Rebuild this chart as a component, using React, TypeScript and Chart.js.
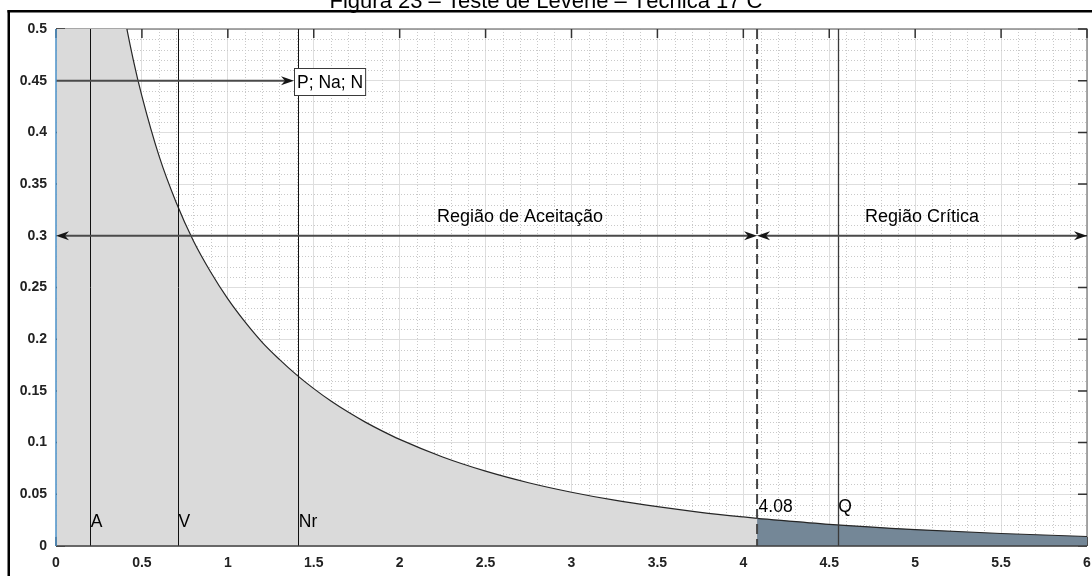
import { useEffect, useRef } from "react";
import { Chart, registerables } from "chart.js";

Chart.register(...registerables);

// Density of the F(1, 40) statistic along the horizontal axis
const curveX = [0.005, 0.05, 0.1, 0.2, 0.3, 0.35, 0.4, 0.45, 0.5, 0.6, 0.7, 0.8, 0.9, 1.0, 1.1, 1.2, 1.3, 1.4, 1.5, 1.6, 1.7, 1.8, 1.9, 2.0, 2.25, 2.5, 2.75, 3.0, 3.25, 3.5, 3.75, 4.0, 4.08, 4.5, 5.0, 5.5, 6.0];
const curveY = [5.59, 1.728, 1.191, 0.8, 0.621, 0.56, 0.511, 0.47, 0.435, 0.377, 0.332, 0.295, 0.265, 0.239, 0.2167, 0.197, 0.1805, 0.1655, 0.1522, 0.1402, 0.1295, 0.1198, 0.1111, 0.1031, 0.0861, 0.0724, 0.0612, 0.052, 0.0443, 0.038, 0.0326, 0.0281, 0.0268, 0.021, 0.0159, 0.0121, 0.0092];

// Critical value of the test
const criticalValue = 4.08;
const criticalLabel = "4.08";

// Observed statistics marked with vertical lines
const markerNames = ["A", "V", "Nr", "Q"];
const markerValues = [0.2, 0.71, 1.41, 4.55];

// Statistics beyond the plotted range, pointed to by an arrow
const pointerLabel = "P; Na; N";
const pointerLevel = 0.45;
const pointerEnd = 1.385;

// Regions
const regionNames = ["Região de Aceitação", "Região Crítica"];
const regionCenters = [2.7, 5.04];
const regionArrowLevel = 0.3;

const titleText = "Figura 23 – Teste de Levene – Técnica 17 C";

// Axis ticks
const xTicks = [0, 0.5, 1, 1.5, 2, 2.5, 3, 3.5, 4, 4.5, 5, 5.5, 6];
const xTickLabels = ["0", "0.5", "1", "1.5", "2", "2.5", "3", "3.5", "4", "4.5", "5", "5.5", "6"];
const yTicks = [0, 0.05, 0.1, 0.15, 0.2, 0.25, 0.3, 0.35, 0.4, 0.45, 0.5];
const yTickLabels = ["0", "0.05", "0.1", "0.15", "0.2", "0.25", "0.3", "0.35", "0.4", "0.45", "0.5"];

const FONT = "'Liberation Sans', Arial, Helvetica, sans-serif";

function labelFor(values: number[], labels: string[], v: number) {
  let best = 0;
  for (let i = 1; i < values.length; i++) {
    if (Math.abs(values[i] - v) < Math.abs(values[best] - v)) best = i;
  }
  return labels[best];
}

function arrowHead(ctx: CanvasRenderingContext2D, tx: number, ty: number, dir: number) {
  const len = 13;
  const half = 4.5;
  const notch = 4;
  ctx.beginPath();
  ctx.moveTo(tx, ty);
  ctx.lineTo(tx - dir * len, ty - half);
  ctx.lineTo(tx - dir * (len - notch), ty);
  ctx.lineTo(tx - dir * len, ty + half);
  ctx.closePath();
  ctx.fill();
}

const overlay = {
  id: "overlay",
  beforeDatasetsDraw(chart: any) {
    const { ctx, chartArea: a, scales } = chart;
    const x = scales.x;
    const y = scales.y;
    ctx.save();
    // minor dotted grid
    ctx.strokeStyle = "#c9c9c9";
    ctx.lineWidth = 1;
    ctx.setLineDash([1, 2]);
    for (let i = 1; i < 60; i++) {
      if (i % 5 === 0) continue;
      const px = Math.round(x.getPixelForValue(i / 10)) + 0.5;
      ctx.beginPath();
      ctx.moveTo(px, a.top);
      ctx.lineTo(px, a.bottom);
      ctx.stroke();
    }
    for (let j = 1; j < 50; j++) {
      if (j % 5 === 0) continue;
      const py = Math.round(y.getPixelForValue(j / 100)) + 0.5;
      ctx.beginPath();
      ctx.moveTo(a.left, py);
      ctx.lineTo(a.right, py);
      ctx.stroke();
    }
    ctx.setLineDash([]);
    // box
    ctx.strokeStyle = "#8a8a8a";
    ctx.lineWidth = 1.5;
    ctx.beginPath();
    ctx.moveTo(a.left, a.top);
    ctx.lineTo(a.right, a.top);
    ctx.lineTo(a.right, a.bottom);
    ctx.stroke();
    // tick marks on all four sides
    ctx.strokeStyle = "#333333";
    ctx.lineWidth = 1.5;
    const tl = 9;
    xTicks.forEach((v) => {
      const px = x.getPixelForValue(v);
      ctx.beginPath();
      ctx.moveTo(px, a.top);
      ctx.lineTo(px, a.top + tl);
      ctx.moveTo(px, a.bottom);
      ctx.lineTo(px, a.bottom - tl);
      ctx.stroke();
    });
    yTicks.forEach((v) => {
      const py = y.getPixelForValue(v);
      ctx.beginPath();
      ctx.moveTo(a.right, py);
      ctx.lineTo(a.right - tl, py);
      ctx.moveTo(a.left, py);
      ctx.lineTo(a.left + tl, py);
      ctx.stroke();
    });
    ctx.restore();
  },
  afterDatasetsDraw(chart: any) {
    const { ctx, chartArea: a, scales } = chart;
    const x = scales.x;
    const y = scales.y;
    const yTop = y.getPixelForValue(0.5);
    const yBot = y.getPixelForValue(0);
    ctx.save();

    // observed statistics
    markerValues.forEach((v, i) => {
      const px = Math.round(x.getPixelForValue(v)) + 0.5;
      ctx.strokeStyle = i === 3 ? "#3a3a3a" : "#111111";
      ctx.lineWidth = i === 3 ? 1.3 : 1;
      ctx.beginPath();
      ctx.moveTo(px, yTop);
      ctx.lineTo(px, yBot);
      ctx.stroke();
    });

    // critical value
    const cx = x.getPixelForValue(criticalValue);
    ctx.strokeStyle = "#454545";
    ctx.lineWidth = 2;
    ctx.setLineDash([10, 5]);
    ctx.beginPath();
    ctx.moveTo(cx, yTop);
    ctx.lineTo(cx, yBot);
    ctx.stroke();
    ctx.setLineDash([]);

    // region arrows
    const ay = y.getPixelForValue(regionArrowLevel);
    const x0 = x.getPixelForValue(0);
    const x6 = x.getPixelForValue(6);
    ctx.strokeStyle = "#4a4a4a";
    ctx.fillStyle = "#151515";
    ctx.lineWidth = 2;
    ctx.beginPath();
    ctx.moveTo(x0 + 6, ay);
    ctx.lineTo(cx - 6, ay);
    ctx.moveTo(cx + 6, ay);
    ctx.lineTo(x6 - 6, ay);
    ctx.stroke();
    arrowHead(ctx, x0, ay, -1);
    arrowHead(ctx, cx, ay, 1);
    arrowHead(ctx, cx, ay, -1);
    arrowHead(ctx, x6, ay, 1);

    // pointer arrow
    const py = y.getPixelForValue(pointerLevel);
    const pe = x.getPixelForValue(pointerEnd);
    ctx.beginPath();
    ctx.moveTo(x0, py);
    ctx.lineTo(pe - 6, py);
    ctx.stroke();
    arrowHead(ctx, pe, py, 1);

    // labels
    ctx.fillStyle = "#000000";
    ctx.textBaseline = "alphabetic";
    ctx.textAlign = "left";
    ctx.font = `17.5px ${FONT}`;
    markerValues.forEach((v, i) => {
      const px = x.getPixelForValue(v);
      const base = y.getPixelForValue(i === 3 ? 0.0326 : 0.0184);
      ctx.fillText(markerNames[i], px + 0.5, base);
    });
    ctx.fillText(criticalLabel, cx + 1.5, y.getPixelForValue(0.0326));

    ctx.font = `18px ${FONT}`;
    ctx.textAlign = "center";
    regionNames.forEach((n, i) => {
      ctx.fillText(n, x.getPixelForValue(regionCenters[i]), y.getPixelForValue(0.3134));
    });

    // boxed pointer label
    ctx.font = `17.5px ${FONT}`;
    ctx.textAlign = "left";
    const w = ctx.measureText(pointerLabel).width + 5;
    const bx = Math.round(pe) + 0.5;
    const by = Math.round(py - 13) + 0.5;
    ctx.fillStyle = "#ffffff";
    ctx.fillRect(bx, by, w, 27);
    ctx.strokeStyle = "#3a3a3a";
    ctx.lineWidth = 1;
    ctx.strokeRect(bx, by, w, 27);
    ctx.fillStyle = "#000000";
    ctx.fillText(pointerLabel, bx + 2.5, by + 19.5);

    // axis lines
    ctx.strokeStyle = "#404040";
    ctx.lineWidth = 1.5;
    ctx.beginPath();
    ctx.moveTo(a.left, a.bottom);
    ctx.lineTo(a.right, a.bottom);
    ctx.stroke();
    ctx.strokeStyle = "#4a90c8";
    ctx.beginPath();
    ctx.moveTo(a.left, a.top);
    ctx.lineTo(a.left, a.bottom);
    ctx.stroke();

    ctx.restore();
  },
  afterDraw(chart: any) {
    const { ctx, width } = chart;
    ctx.save();
    // figure frame
    ctx.fillStyle = "#000000";
    ctx.fillRect(7.5, 10, 2.5, 576);
    ctx.fillRect(7.5, 10, width, 2.5);
    // title
    ctx.font = `22px ${FONT}`;
    ctx.textAlign = "center";
    ctx.textBaseline = "alphabetic";
    ctx.fillText(titleText, 546, 8);
    ctx.restore();
  },
};

export default function App() {
  const ref = useRef<HTMLCanvasElement | null>(null);

  useEffect(() => {
    if (!ref.current) return;
    const points = curveX.map((v, i) => ({ x: v, y: curveY[i] }));
    const acceptance = points.filter((p) => p.x <= criticalValue);
    const critical = points.filter((p) => p.x >= criticalValue);

    const tickFont = { family: FONT, size: 14, weight: "bold" as const };

    const chart = new Chart(ref.current, {
      type: "line",
      data: {
        datasets: [
          {
            label: "Região de Aceitação",
            data: acceptance,
            borderColor: "#262626",
            borderWidth: 1.2,
            backgroundColor: "#dadada",
            fill: "origin",
            pointRadius: 0,
            cubicInterpolationMode: "monotone",
          },
          {
            label: "Região Crítica",
            data: critical,
            borderColor: "#262626",
            borderWidth: 1.2,
            backgroundColor: "#748797",
            fill: "origin",
            pointRadius: 0,
            cubicInterpolationMode: "monotone",
          },
        ],
      },
      options: {
        responsive: false,
        animation: false,
        events: [],
        layout: { padding: { top: 29, right: 5, left: 0, bottom: 0 } },
        plugins: {
          legend: { display: false },
          tooltip: { enabled: false },
          title: { display: false },
        },
        scales: {
          x: {
            type: "linear",
            min: 0,
            max: 6,
            afterBuildTicks: (s: any) => {
              s.ticks = xTicks.map((v) => ({ value: v }));
            },
            afterFit: (s: any) => {
              s.height = 30;
              s.paddingLeft = 0;
              s.paddingRight = 0;
            },
            ticks: {
              autoSkip: false,
              maxRotation: 0,
              padding: 9,
              color: "#222222",
              font: tickFont,
              callback: (v: any) => labelFor(xTicks, xTickLabels, Number(v)),
            },
            grid: { color: "#dedede", lineWidth: 1, drawTicks: false },
            border: { display: false },
          },
          y: {
            type: "linear",
            min: 0,
            max: 0.5,
            afterBuildTicks: (s: any) => {
              s.ticks = yTicks.map((v) => ({ value: v }));
            },
            afterFit: (s: any) => {
              s.width = 56;
              s.paddingTop = 0;
              s.paddingBottom = 0;
            },
            ticks: {
              autoSkip: false,
              padding: 9,
              color: "#222222",
              font: tickFont,
              callback: (v: any) => labelFor(yTicks, yTickLabels, Number(v)),
            },
            grid: { color: "#dedede", lineWidth: 1, drawTicks: false },
            border: { display: false },
          },
        },
      },
      plugins: [overlay],
    });

    return () => chart.destroy();
  }, []);

  return (
    <div style={{ position: "absolute", left: 0, top: 0, width: 1092, height: 576, background: "#ffffff" }}>
      <canvas ref={ref} width={1092} height={576} style={{ display: "block" }} />
    </div>
  );
}
